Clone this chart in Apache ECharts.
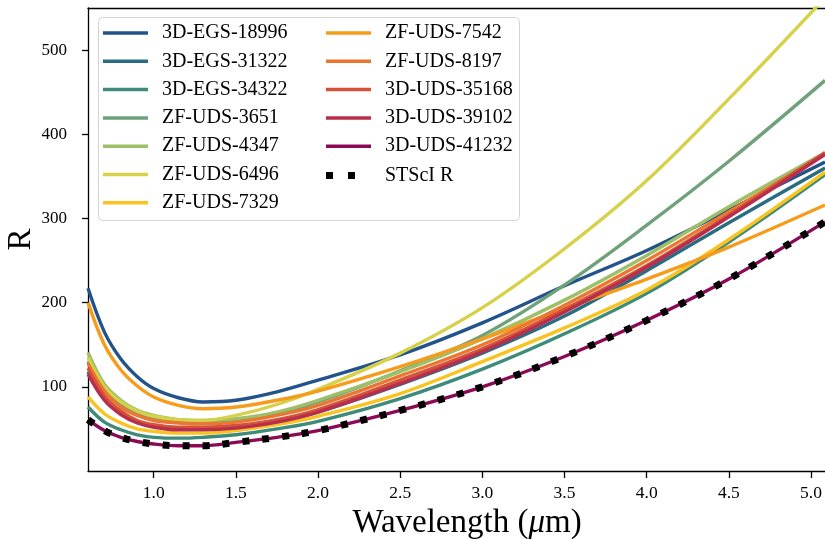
<!DOCTYPE html>
<html><head><meta charset="utf-8">
<script src="https://cdn.jsdelivr.net/npm/echarts@6/dist/echarts.min.js"></script>
<style>html,body{margin:0;padding:0;background:#fff}#c{width:825px;height:539px}</style>
</head><body><div id="c"></div>
<script>
// ---- data ----
const wavelength = [0.6, 0.7, 0.8, 0.9, 1.0, 1.15, 1.3, 1.5, 1.75, 2.0, 2.5, 3.0, 3.5, 4.0, 4.5, 5.085];
const names = ['3D-EGS-18996','3D-EGS-31322','3D-EGS-34322','ZF-UDS-3651','ZF-UDS-4347','ZF-UDS-6496','ZF-UDS-7329',
               'ZF-UDS-7542','ZF-UDS-8197','3D-UDS-35168','3D-UDS-39102','3D-UDS-41232','STScI R'];
const rEGS18996 = [217,165,133,112,98,87,82,84,94,108,138,176,220,262,310,367];
const rEGS31322 = [118,86,69,59,53,50,50,52,59,70,103,140,184,238,295,360];
const rEGS34322 = [76,58,49,43,40,39,40,43,50,59,86,121,163,211,272,352];
const rUDS3651  = [130,97,79,68,62,58,57,60,68,82,119,161,221,292,368,464];
const rUDS4347  = [141,103,84,72,66,61,60,62,70,84,118,157,203,256,314,378];
const rUDS6496  = [135,100,82,71,65,61,60,66,79,97,140,194,264,345,442,562];
const rUDS7329  = [88,68,57,50,47,45,45,48,55,65,92,130,170,215,275,355];
const rUDS7542  = [200,150,120,101,88,78,74,76,84,95,124,157,193,228,266,316];
const rUDS8197  = [128,95,76,66,60,57,56,58,66,78,113,150,197,250,308,377];
const rUDS35168 = [122,89,71,60,55,52,52,54,61,73,108,145,192,244,304,378];
const rUDS39102 = [115,84,67,57,52,49,49,51,58,70,104,142,189,242,302,376];
const rUDS41232 = [61,48,40,35,32,30,30,34,40,48,72,100,136,179,228,296];
const rSTScI    = [61,48,40,35,32,30,30,34,40,48,72,100,136,179,228,296];
const allValues = [rEGS18996,rEGS31322,rEGS34322,rUDS3651,rUDS4347,rUDS6496,rUDS7329,
                   rUDS7542,rUDS8197,rUDS35168,rUDS39102,rUDS41232,rSTScI];
const xTicks = [1.0,1.5,2.0,2.5,3.0,3.5,4.0,4.5,5.0];
const yTicks = [100,200,300,400,500];

// ---- style ----
const colors = ['#22538a','#2a6d83','#3e8a7b','#6fa27a','#9cbf68','#d6d148','#f9c320',
                '#f59c1c','#ec7530','#d55238','#b82e4d','#8b0a55','#000000'];
const FONT = 'Liberation Serif';

const series = names.map((n, i) => {
  const isRef = n === 'STScI R';
  return {
    name: n, type: 'line', smooth: 0.35, showSymbol: false, symbol: 'none',
    color: colors[i],
    data: wavelength.map((w, k) => [w, allValues[i][k]]),
    lineStyle: isRef ? {width: 7, color: '#000', type: [7, 13], cap: 'butt'} : {width: 3.4, color: colors[i]},
    emphasis: {disabled: true}, z: 2
  };
});

const legTxt = {fontFamily: FONT, fontSize: 20, lineHeight: 20, color: '#000', padding: [0,0,0,9]};
const chart = echarts.init(document.getElementById('c'), null, {renderer: 'canvas'});
chart.setOption({
  animation: false,
  grid: {left: 88, right: 0, top: 8, bottom: 68, outerBoundsMode: 'none', containLabel: false},
  graphic: [{type: 'rect', z: 3, shape: {x: 98.5, y: 17.5, width: 421, height: 203, r: 4},
             style: {fill: 'rgba(255,255,255,0.8)', stroke: '#d4d4d4', lineWidth: 1}}],
  legend: [
    {orient: 'vertical', left: 103, top: 23, padding: 0, itemGap: 8.3, itemWidth: 45, itemHeight: 3.5,
     data: names.slice(0, 7).map(n => ({name: n, icon: 'rect'})), textStyle: legTxt, selectedMode: false},
    {orient: 'vertical', left: 326, top: 23, padding: 0, itemGap: 8.3, itemWidth: 45, itemHeight: 3.5,
     data: names.slice(7, 12).map(n => ({name: n, icon: 'rect'})), textStyle: legTxt, selectedMode: false},
    {orient: 'vertical', left: 326, top: 165.5, padding: 0, itemWidth: 29, itemHeight: 7,
     data: [{name: 'STScI R', icon: 'path://M0,0h7v7h-7zM22,0h7v7h-7z'}],
     textStyle: Object.assign({}, legTxt, {padding: [0,0,0,25]}), selectedMode: false}
  ],
  xAxis: [{
    type: 'value', min: 0.6, max: 5.085, position: 'bottom',
    axisLine: {show: true, onZero: false, lineStyle: {color: '#000', width: 1.3}},
    axisTick: {show: true, length: 7, customValues: xTicks, lineStyle: {color: '#000', width: 1.3}},
    axisLabel: {customValues: xTicks, formatter: v => v.toFixed(1), fontFamily: FONT, fontSize: 17.5, color: '#000', margin: 13},
    splitLine: {show: false},
    name: '{n|Wavelength (}{m|μ}{n|m)}', nameLocation: 'middle', nameGap: 32,
    nameTextStyle: {padding: [0,0,0,21], rich: {n: {fontFamily: FONT, fontSize: 33, color: '#000'},
                                           m: {fontFamily: FONT, fontSize: 33, fontStyle: 'italic', color: '#000'}}}
  }, {
    type: 'value', min: 0.6, max: 5.085, position: 'top',
    axisLine: {show: true, onZero: false, lineStyle: {color: '#000', width: 1.3}},
    axisTick: {show: false}, axisLabel: {show: false}, splitLine: {show: false}
  }],
  yAxis: {
    type: 'value', min: 0, max: 550,
    axisLine: {show: true, onZero: false, lineStyle: {color: '#000', width: 1.3}},
    axisTick: {show: true, length: 6, customValues: yTicks, lineStyle: {color: '#000', width: 1.3}},
    axisLabel: {customValues: yTicks, fontFamily: FONT, fontSize: 17, color: '#000', margin: 21},
    splitLine: {show: false},
    name: 'R', nameLocation: 'middle', nameGap: 50, nameMoveOverlap: false,
    nameTextStyle: {fontFamily: FONT, fontSize: 33, color: '#000'}
  },
  series: series
});
</script>
</body></html>
